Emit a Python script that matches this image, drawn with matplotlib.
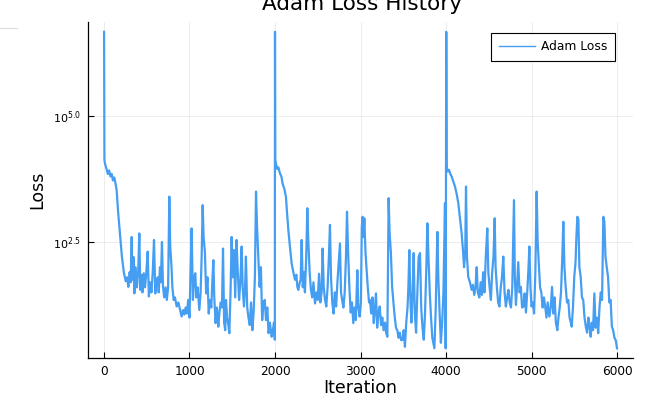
import matplotlib
matplotlib.use("Agg")
import matplotlib.pyplot as plt
from matplotlib.lines import Line2D
import numpy as np

# values: (iteration, log10 of loss)
iters_a = [1, 5, 12, 30, 45, 60, 75, 90, 105, 120, 135, 148, 165, 187, 210, 234, 255, 270, 285, 300,
           312, 324, 332, 345, 355, 370, 385, 400, 413, 425, 438, 450, 465, 480, 495, 511, 525, 540,
           555, 570, 585, 600, 615, 630, 640, 655, 665, 678, 690, 705, 720, 735, 750, 764, 775, 790,
           800, 815, 830, 850, 870, 890, 908, 925, 940, 955, 970, 985, 1000, 1012, 1025, 1040, 1055,
           1068, 1080, 1095, 1115, 1130, 1142, 1154, 1165, 1180, 1195, 1210, 1225, 1240, 1255, 1267,
           1279, 1290, 1305, 1320, 1337, 1350, 1365, 1380, 1392, 1405, 1418, 1427, 1440, 1455, 1466,
           1480, 1493, 1505, 1520, 1535, 1550, 1565, 1580, 1595, 1610, 1622, 1637, 1650, 1660, 1675,
           1690, 1705, 1720, 1735, 1750, 1765, 1778, 1790, 1805, 1820, 1835, 1850, 1865, 1880, 1895,
           1910, 1925, 1940, 1961, 1975, 1988, 1998]
loss_a = [6.67, 4.13, 4.05, 3.95, 3.85, 3.92, 3.80, 3.85, 3.72, 3.78, 3.66, 3.53, 3.10, 2.67, 2.20,
          1.88, 1.72, 1.80, 1.61, 1.90, 1.70, 2.60, 1.75, 2.20, 1.48, 2.00, 1.60, 1.90, 2.67, 1.55,
          1.85, 1.50, 1.88, 1.60, 1.90, 2.31, 1.42, 1.70, 1.50, 1.90, 2.54, 1.48, 1.75, 1.80, 1.50,
          2.00, 1.70, 2.50, 1.61, 1.40, 1.60, 1.35, 1.60, 3.40, 2.40, 2.00, 1.60, 1.35, 1.40, 1.22,
          1.30, 1.15, 1.02, 1.15, 1.06, 1.20, 1.08, 1.35, 1.00, 1.90, 2.77, 1.35, 1.80, 1.88, 1.40,
          1.60, 1.15, 1.50, 2.20, 3.23, 2.60, 2.30, 1.48, 1.80, 1.08, 1.35, 1.20, 1.70, 2.14, 1.40,
          0.89, 1.20, 0.82, 1.10, 1.30, 1.20, 2.37, 0.90, 0.75, 1.35, 1.00, 0.85, 0.69, 1.50, 2.60,
          1.80, 2.34, 1.40, 2.54, 1.90, 1.35, 1.70, 2.41, 1.60, 1.22, 1.60, 2.21, 1.20, 1.00, 0.85,
          1.30, 0.75, 1.10, 1.80, 3.50, 2.80, 2.21, 1.61, 2.00, 0.95, 1.30, 1.35, 0.95, 1.20, 0.69,
          0.90, 0.62, 0.75, 0.90, 0.56]

iters_b = [2000, 2003, 2012, 2025, 2040, 2058, 2075, 2090, 2110, 2128, 2140, 2156, 2175, 2195, 2215,
           2234, 2250, 2262, 2273, 2290, 2300, 2312, 2325, 2338, 2350, 2365, 2378, 2390, 2405, 2420,
           2435, 2450, 2468, 2485, 2500, 2515, 2530, 2545, 2557, 2570, 2585, 2600, 2615, 2630, 2643,
           2655, 2670, 2685, 2700, 2715, 2730, 2745, 2760, 2772, 2785, 2800, 2815, 2830, 2842, 2855,
           2870, 2885, 2900, 2916, 2930, 2945, 2963, 2975, 2990, 3005, 3015, 3025, 3035, 3045, 3058,
           3070, 3085, 3100, 3111, 3125, 3140, 3155, 3170, 3181, 3195, 3210, 3225, 3240, 3255, 3270,
           3287, 3300, 3314, 3322, 3329, 3340, 3355, 3370, 3385, 3400, 3415, 3430, 3445, 3460, 3475,
           3493, 3505, 3520, 3535, 3550, 3560, 3571, 3585, 3595, 3610, 3622, 3635, 3650, 3665, 3680,
           3696, 3710, 3725, 3740, 3755, 3770, 3782, 3795, 3810, 3825, 3840, 3852, 3864, 3880, 3899,
           3910, 3925, 3940, 3955, 3970, 3988, 3996]
loss_b = [6.67, 4.13, 4.05, 3.95, 3.98, 3.86, 3.80, 3.65, 3.55, 3.40, 3.10, 2.74, 2.40, 2.07, 1.90,
          1.75, 1.85, 1.60, 1.55, 1.70, 1.75, 2.54, 1.60, 1.90, 1.50, 2.20, 3.17, 2.50, 1.90, 1.55,
          1.40, 1.70, 1.28, 1.50, 1.35, 1.87, 1.30, 1.50, 2.37, 1.60, 1.35, 1.22, 1.60, 2.20, 2.84,
          1.80, 1.30, 1.08, 1.50, 1.22, 1.70, 2.10, 2.47, 1.50, 1.35, 1.20, 1.50, 2.20, 3.10, 2.30,
          1.60, 1.10, 1.30, 0.89, 1.20, 0.95, 1.94, 1.20, 1.02, 1.30, 2.80, 3.00, 2.60, 2.97, 2.30,
          2.00, 1.60, 1.30, 1.35, 1.08, 1.40, 0.89, 1.20, 1.48, 0.80, 1.10, 1.22, 0.85, 1.00, 0.75,
          0.90, 0.70, 0.62, 2.00, 3.37, 2.70, 2.30, 1.61, 1.30, 1.02, 0.80, 0.75, 0.60, 0.70, 0.55,
          0.56, 0.75, 0.42, 0.90, 1.20, 1.60, 2.34, 1.30, 0.90, 1.50, 2.28, 1.10, 0.70, 1.50, 2.20,
          2.28, 1.20, 0.80, 0.56, 1.10, 2.00, 2.87, 2.20, 1.50, 1.00, 0.60, 0.50, 0.39, 1.20, 2.70,
          1.80, 1.10, 0.50, 0.90, 1.50, 3.27, 0.39]

iters_c = [4003, 4008, 4020, 4035, 4050, 4066, 4085, 4105, 4125, 4144, 4165, 4183, 4200, 4211, 4225,
           4234, 4245, 4260, 4280, 4300, 4315, 4330, 4345, 4359, 4372, 4390, 4405, 4420, 4435, 4450,
           4465, 4483, 4495, 4510, 4525, 4540, 4555, 4569, 4580, 4595, 4610, 4625, 4640, 4655, 4670,
           4685, 4700, 4715, 4730, 4745, 4760, 4775, 4795, 4805, 4818, 4830, 4845, 4860, 4875, 4890,
           4905, 4920, 4935, 4950, 4965, 4975, 4988, 5000, 5015, 5030, 5045, 5060, 5072, 5085, 5100,
           5115, 5130, 5145, 5160, 5175, 5190, 5209, 5225, 5240, 5255, 5270, 5285, 5302, 5315, 5330,
           5345, 5360, 5372, 5385, 5400, 5415, 5430, 5445, 5460, 5470, 5485, 5500, 5515, 5525, 5536,
           5548, 5560, 5575, 5590, 5605, 5620, 5635, 5650, 5665, 5680, 5692, 5705, 5720, 5735, 5750,
           5765, 5780, 5795, 5810, 5825, 5840, 5852, 5865, 5880, 5895, 5910, 5925, 5940, 5955, 5970,
           5985, 6000]
loss_c = [6.67, 4.00, 3.90, 3.93, 3.85, 3.80, 3.70, 3.60, 3.45, 3.27, 2.95, 2.67, 2.30, 2.00, 2.30,
          3.60, 2.20, 1.81, 1.70, 1.55, 1.65, 1.45, 1.60, 2.00, 1.50, 1.40, 1.70, 1.45, 1.90, 1.50,
          2.20, 2.77, 1.90, 1.60, 1.35, 1.90, 2.20, 2.97, 2.00, 1.60, 1.30, 1.22, 1.60, 1.80, 2.21,
          1.50, 1.22, 1.40, 1.55, 1.30, 1.20, 1.60, 3.33, 1.80, 1.25, 1.60, 2.10, 1.50, 1.61, 1.20,
          1.22, 1.48, 1.10, 1.50, 2.00, 2.41, 1.60, 1.22, 1.30, 1.08, 1.90, 3.50, 2.50, 2.07, 1.60,
          1.50, 1.20, 1.40, 1.22, 1.00, 1.30, 1.02, 1.20, 1.61, 1.08, 1.40, 0.90, 0.75, 1.00, 1.20,
          1.50, 2.20, 2.90, 2.00, 1.60, 1.30, 1.35, 1.00, 0.90, 0.82, 1.20, 1.81, 2.10, 2.60, 3.00,
          2.95, 2.00, 1.81, 1.40, 1.35, 1.00, 0.82, 0.70, 1.00, 0.80, 0.62, 0.90, 0.75, 1.48, 0.80,
          1.00, 0.69, 1.20, 1.50, 1.35, 3.00, 2.90, 2.21, 2.00, 1.81, 1.30, 1.35, 0.82, 0.75, 0.60,
          0.55, 0.39]

iteration = np.array(iters_a + iters_b + iters_c)
loss = 10.0 ** np.array(loss_a + loss_b + loss_c)

ytick_vals = [2.5, 5.0]
xtick_vals = [0, 1000, 2000, 3000, 4000, 5000, 6000]

W, H = 668, 408
fig = plt.figure(figsize=(W / 100, H / 100), dpi=100)
ax = fig.add_axes([88 / W, 1 - 358 / H, 545 / W, 336 / H])

ax.plot(iteration, loss, color="#459ef2", lw=1.6, label="Adam Loss")

ax.set_yscale("log")
ax.set_xlim(-187, 6187)
ax.set_ylim(10 ** 0.198, 10 ** 6.865)
ax.set_xticks(xtick_vals)
ax.set_xticklabels([str(v) for v in xtick_vals])
ax.set_yticks([10 ** v for v in ytick_vals])
ax.set_yticklabels([r"$10^{%.1f}$" % v for v in ytick_vals])
ax.yaxis.set_minor_locator(matplotlib.ticker.NullLocator())

ax.grid(True, color="black", alpha=0.1, lw=0.5)
for s in ["top", "right"]:
    ax.spines[s].set_visible(False)
for s in ["left", "bottom"]:
    ax.spines[s].set_linewidth(0.9)
ax.tick_params(direction="in", length=4, width=0.8, pad=5)
ax.tick_params(axis="x", labelsize=8.7)
ax.tick_params(axis="y", labelsize=8)

ax.set_xlabel("Iteration", fontsize=12.5, labelpad=1)
ax.set_ylabel("Loss", fontsize=12.5, labelpad=5)

fig.text(362 / W, 1 - 10 / H, "Adam Loss History", fontsize=15.5, ha="center", va="baseline")

leg = ax.legend(loc="upper right", bbox_to_anchor=(615 / W, 1 - 33 / H),
                bbox_transform=fig.transFigure, borderaxespad=0, fontsize=8.8,
                fancybox=False, framealpha=1, edgecolor="black",
                handlelength=3.0, handletextpad=0.5, borderpad=0.6)
leg.get_frame().set_linewidth(0.8)
leg.get_lines()[0].set_linewidth(1.0)

fig.add_artist(Line2D([0, 17 / W], [1 - 28 / H, 1 - 28 / H], color="#dddddd", lw=0.8))

fig.savefig("out.png", dpi=100)
